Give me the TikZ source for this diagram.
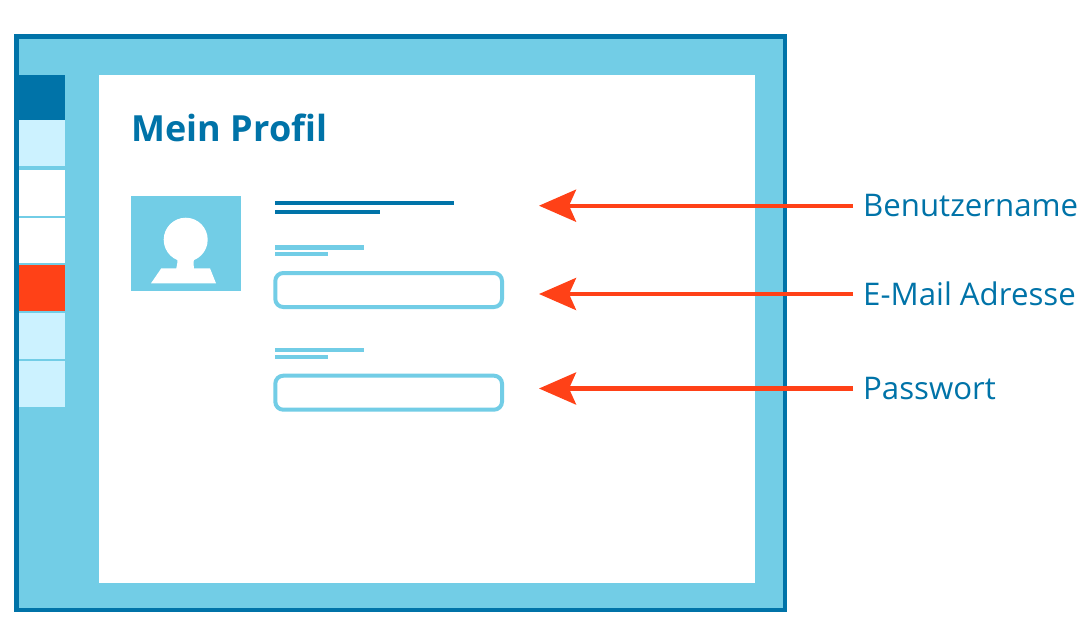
\documentclass[tikz,border=0pt]{standalone}
\usepackage{fontspec}
\usetikzlibrary{arrows.meta}
\setmainfont{Open Sans}
\definecolor{dunkel}{HTML}{0073A8}
\definecolor{mittel}{HTML}{72CDE6}
\definecolor{hell}{HTML}{CCF2FF}
\definecolor{rot}{HTML}{FF4117}
\tikzset{
  dark/.style={fill=dunkel},
  mid/.style={fill=mittel},
  pale/.style={fill=hell},
  hot/.style={fill=rot},
  blank/.style={fill=white},
  inputbox/.style={draw=mittel,line width=4pt,rounded corners=8pt,fill=white},
  callout/.style={anchor=west,inner xsep=10pt,inner ysep=0pt,text=dunkel,font=\fontsize{31.2}{36}\selectfont},
  pointer/.style={draw=rot,line width=4.2pt,-{Stealth[length=37pt,width=32pt,inset=7pt,fill=rot]}}
}
\begin{document}
\begin{tikzpicture}[x=1pt,y=-1pt]
\useasboundingbox (0,0) rectangle (1086,627);
% frame
\draw[draw=dunkel,line width=4.4pt,fill=mittel] (16.5,36.5) rectangle (785,610);
\fill[blank] (99,74.5) rectangle (755,583);
% sidebar
\fill[dark]  (19,74.5) rectangle (65.3,120);
\fill[pale]  (19,120) rectangle (65.3,166);
\fill[blank] (19,170) rectangle (65.3,215.7);
\fill[blank] (19,217.7) rectangle (65.3,263.3);
\fill[hot]   (19,265.3) rectangle (65.3,311);
\fill[pale]  (19,312.7) rectangle (65.3,359);
\fill[pale]  (19,361) rectangle (65.3,406.7);
% title
\node[anchor=base west,inner sep=0pt,text=dunkel,font=\bfseries\fontsize{36}{44}\selectfont] (title) at (131.5,141) {Mein Profil};
% avatar
\fill[mid] (131,196.3) rectangle (241.3,290.7);
\fill[blank] (185.7,239.7) circle (22);
\fill[blank] (177,258) -- (194.5,258) -- (193.5,262) -- (194,270) -- (176,270) -- (177.5,262) -- cycle;
\fill[blank] (161.3,268.3) -- (210,268.3) -- (216,283.3) -- (151,283.3) -- cycle;
% name lines
\fill[dark] (275.3,200.7) rectangle (453.7,205);
\fill[dark] (275.3,209.7) rectangle (380.3,214);
% email
\fill[mid] (275.3,245.3) rectangle (364.3,249.7);
\fill[mid] (275.3,252) rectangle (327.7,256.3);
\draw[inputbox] (275.3,273) rectangle (502,307);
% password
\fill[mid] (275.3,348) rectangle (364.3,352.3);
\fill[mid] (275.3,354.7) rectangle (327.7,359);
\draw[inputbox] (275.3,375.7) rectangle (502,409.7);
% callouts
\node[callout] (lbenutzer) at (853,205.7) {Benutzername};
\node[callout] (lmail) at (853,294) {E-Mail Adresse};
\node[callout] (lpass) at (853,388.5) {Passwort};
\coordinate (tbenutzer) at (539,205.7);
\coordinate (tmail) at (539,294);
\coordinate (tpass) at (539,388.5);
\draw[pointer] (lbenutzer.west) -- (tbenutzer);
\draw[pointer] (lmail.west) -- (tmail);
\draw[pointer] (lpass.west) -- (tpass);
\end{tikzpicture}
\end{document}
